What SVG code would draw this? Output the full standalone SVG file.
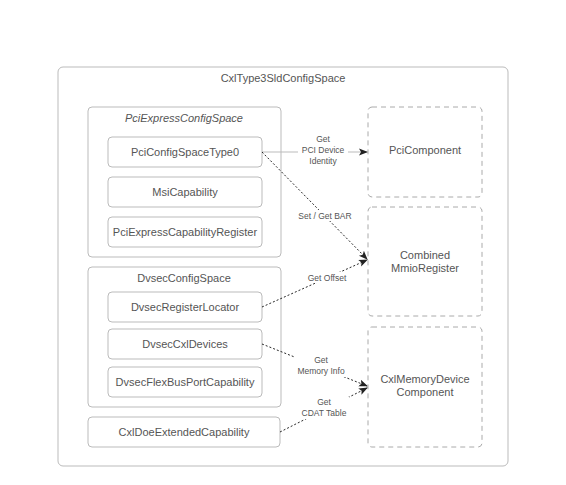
<svg xmlns="http://www.w3.org/2000/svg" width="566" height="485" viewBox="0 0 566 485">
<defs>
<style>
text{font-family:"Liberation Sans",Arial,sans-serif;fill:#555;text-anchor:middle;}
.n{font-size:11px;}
.l{font-size:8.5px;}
.box{fill:#fff;stroke:#bbb;stroke-width:1;}
.dash{fill:#fff;stroke:#aaa;stroke-width:1;stroke-dasharray:5,4;}
.dot{fill:none;stroke:#111;stroke-width:0.9;stroke-dasharray:2,2;}
.sol{fill:none;stroke:#bbb;stroke-width:1;}
</style>
<marker id="ah" markerWidth="9" markerHeight="9" refX="8" refY="4.5" orient="auto" markerUnits="userSpaceOnUse">
<path d="M0,1 L9,4.5 L0,8 L2,4.5 Z" fill="#222"/>
</marker>
</defs>
<rect width="566" height="485" fill="#fff"/>
<g id="CxlType3SldConfigSpace">
<rect class="box" x="58" y="67" width="450" height="399" rx="5"/>
<text class="n" x="283" y="82">CxlType3SldConfigSpace</text>
</g>
<g id="PciExpressConfigSpace">
<rect class="box" x="88" y="107" width="193" height="150" rx="4"/>
<text class="n" x="184" y="122" font-style="italic">PciExpressConfigSpace</text>
</g>
<g id="PciConfigSpaceType0">
<rect class="box" x="108" y="137" width="154" height="30" rx="4"/>
<text class="n" x="185" y="156">PciConfigSpaceType0</text>
</g>
<g id="MsiCapability">
<rect class="box" x="108" y="177" width="154" height="30" rx="4"/>
<text class="n" x="185" y="196">MsiCapability</text>
</g>
<g id="PciExpressCapabilityRegister">
<rect class="box" x="108" y="217" width="154" height="30" rx="4"/>
<text class="n" x="185" y="236">PciExpressCapabilityRegister</text>
</g>
<g id="DvsecConfigSpace">
<rect class="box" x="88" y="267" width="193" height="140" rx="4"/>
<text class="n" x="184" y="282">DvsecConfigSpace</text>
</g>
<g id="DvsecRegisterLocator">
<rect class="box" x="108" y="292" width="154" height="30" rx="4"/>
<text class="n" x="185" y="311">DvsecRegisterLocator</text>
</g>
<g id="DvsecCxlDevices">
<rect class="box" x="108" y="329" width="154" height="30" rx="4"/>
<text class="n" x="185" y="348">DvsecCxlDevices</text>
</g>
<g id="DvsecFlexBusPortCapability">
<rect class="box" x="108" y="367" width="154" height="30" rx="4"/>
<text class="n" x="185" y="386">DvsecFlexBusPortCapability</text>
</g>
<g id="CxlDoeExtendedCapability">
<rect class="box" x="88" y="417" width="192" height="30" rx="4"/>
<text class="n" x="184" y="436">CxlDoeExtendedCapability</text>
</g>
<g id="PciComponent">
<rect class="dash" x="368" y="107" width="114" height="90" rx="4"/>
<text class="n" x="425" y="154">PciComponent</text>
</g>
<g id="CombinedMmioRegister">
<rect class="dash" x="368" y="207" width="114" height="109" rx="4"/>
<text class="n" x="425" y="259">Combined</text>
<text class="n" x="425" y="272">MmioRegister</text>
</g>
<g id="CxlMemoryDeviceComponent">
<rect class="dash" x="368" y="327" width="114" height="120" rx="4"/>
<text class="n" x="425" y="383">CxlMemoryDevice</text>
<text class="n" x="425" y="396">Component</text>
</g>
<g id="connectors">
<path class="sol" d="M262,152 L367,152" marker-end="url(#ah)"/>
<path class="dot" d="M262,152 L367,259" marker-end="url(#ah)"/>
<path class="dot" d="M262,307 L367,260" marker-end="url(#ah)"/>
<path class="dot" d="M262,344 L367,386" marker-end="url(#ah)"/>
<path class="dot" d="M280,432 L367,388" marker-end="url(#ah)"/>
<g>
<rect x="298" y="134" width="50" height="32" fill="#fff"/>
<text class="l" x="323" y="142">Get</text>
<text class="l" x="323" y="153">PCI Device</text>
<text class="l" x="323" y="164">Identity</text>
</g>
<g>
<rect x="296" y="210" width="58" height="11" fill="#fff"/>
<text class="l" x="325" y="219">Set / Get BAR</text>
</g>
<g>
<rect x="304" y="272" width="46" height="11" fill="#fff"/>
<text class="l" x="327" y="281">Get Offset</text>
</g>
<g>
<rect x="295" y="355" width="52" height="22" fill="#fff"/>
<text class="l" x="321" y="363">Get</text>
<text class="l" x="321" y="374">Memory Info</text>
</g>
<g>
<rect x="299" y="397" width="50" height="22" fill="#fff"/>
<text class="l" x="324" y="405">Get</text>
<text class="l" x="324" y="416">CDAT Table</text>
</g>
</g>
</svg>
